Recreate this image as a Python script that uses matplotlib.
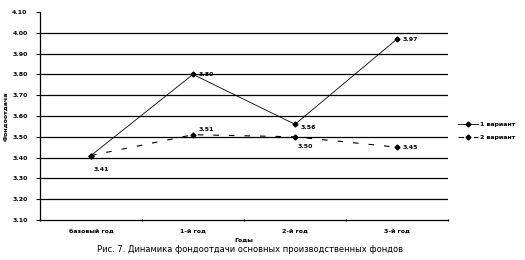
import matplotlib
matplotlib.use("Agg")
import matplotlib.pyplot as plt

categories = ["базовый год", "1-й год", "2-й год", "3-й год"]
series1 = [3.41, 3.80, 3.56, 3.97]
series2 = [3.41, 3.51, 3.50, 3.45]
names = ["1 вариант", "2 вариант"]
yticks = [3.10, 3.20, 3.30, 3.40, 3.50, 3.60, 3.70, 3.80, 3.90, 4.00, 4.10]

plt.rcParams['font.family'] = ['DejaVu Sans']
fig = plt.figure(figsize=(5.25, 2.6), dpi=100)
ax = fig.add_axes([40/525, 1-220/260, 408/525, 208/260])

x = list(range(len(categories)))
ax.set_xlim(-0.5, len(categories) - 0.5)
ax.set_ylim(3.10, 4.10)

for yv in yticks[1:-1]:
    ax.axhline(yv, color='black', lw=0.9, zorder=1)

l1, = ax.plot(x, series1, color='black', lw=0.6, marker='D', ms=2.5, zorder=3, label=names[0])
l2, = ax.plot(x, series2, color='black', lw=0.8, ls=(0, (5, 9)), marker='D', ms=2.5, zorder=3, label=names[1])

off1 = [(2, -10), (4, 0), (4, -2), (4, 0)]
for xi, v, o in zip(x, series1, off1):
    ax.annotate(f"{v:.2f}", (xi, v), xytext=o, textcoords='offset points', fontsize=4.5,
                fontweight='bold', va='center', ha='left')
off2 = [None, (4, 4), (2, -7), (4, 0)]
for xi, v, o in zip(x, series2, off2):
    if o is None:
        continue
    ax.annotate(f"{v:.2f}", (xi, v), xytext=o, textcoords='offset points', fontsize=4.5,
                fontweight='bold', va='center', ha='left')

ax.set_yticks(yticks)
ax.set_yticklabels([f"{v:.2f}" for v in yticks], fontsize=4.5, fontweight='bold')
ax.set_xticks(x)
ax.set_xticklabels(categories, fontsize=4.5, fontweight='bold')
ax.tick_params(axis='x', which='major', length=0, pad=6)
ax.set_xticks([i - 0.5 for i in range(len(categories) + 1)], minor=True)
ax.tick_params(axis='x', which='minor', length=2, direction='inout', width=0.8)
ax.tick_params(axis='y', length=3, width=0.8, pad=6)

for s in ['top', 'right']:
    ax.spines[s].set_visible(False)
ax.spines['left'].set_linewidth(0.9)
ax.spines['bottom'].set_linewidth(0.9)

ax.set_xlabel("Годы", fontsize=4.5, fontweight='bold', labelpad=3)
ax.set_ylabel("Фондоотдача", fontsize=4.5, fontweight='bold')
ax.yaxis.set_label_coords((8 - 40) / 408, 0.5)

leg = fig.legend(handles=[l1, l2], labels=names, loc='upper left',
                 bbox_to_anchor=(452/525, 1-116/260), frameon=False,
                 prop={'weight': 'bold', 'size': 4.5},
                 handlelength=3.2, handletextpad=0.3, labelspacing=1.2)

fig.text(250/525, 1-249/260, "Рис. 7. Динамика фондоотдачи основных производственных фондов",
         fontsize=6, ha='center', va='center')

fig.savefig("out.png", dpi=100)
